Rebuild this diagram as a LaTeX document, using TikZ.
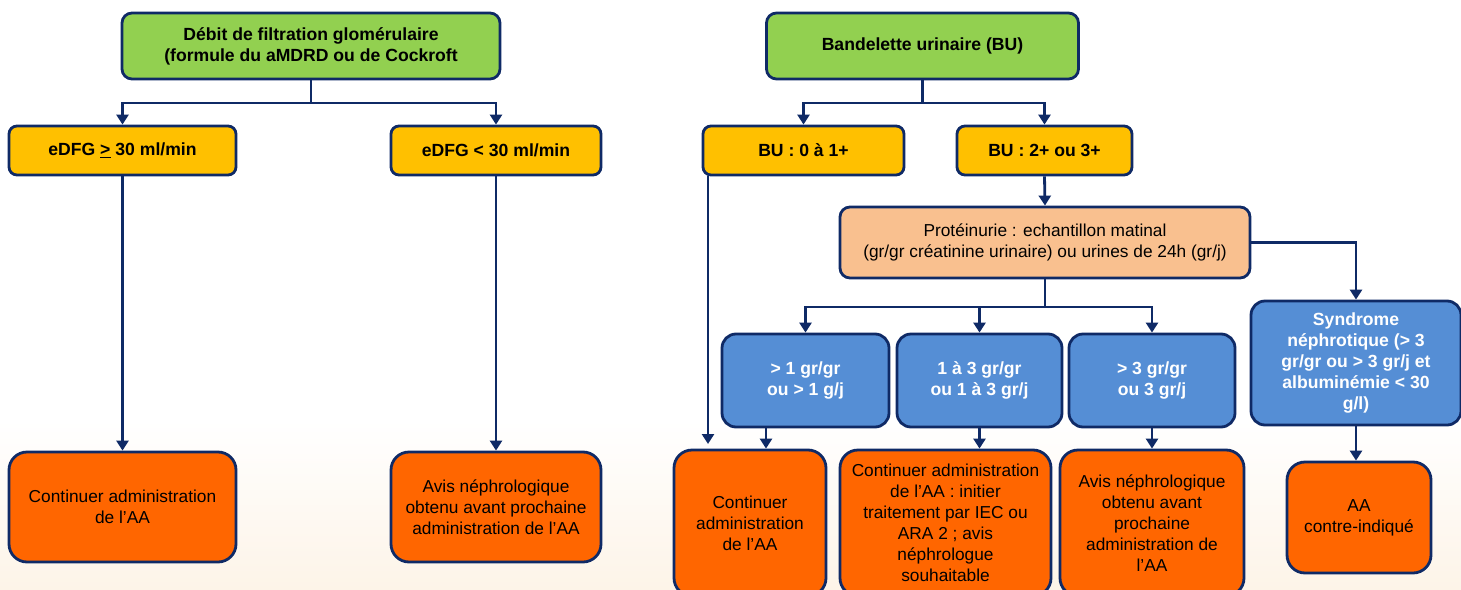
\documentclass[tikz,border=0pt]{standalone}
\usepackage{fontspec}
\setmainfont{Liberation Sans}
\usetikzlibrary{arrows.meta}
\definecolor{navy}{HTML}{0F2A66}
\definecolor{cgreen}{HTML}{92D050}
\definecolor{cyellow}{HTML}{FFC000}
\definecolor{cpeach}{HTML}{F9C08F}
\definecolor{cblue}{HTML}{558ED5}
\definecolor{corange}{HTML}{FF6600}
\definecolor{cwarm}{HTML}{FDF4E8}
\begin{document}
\begin{tikzpicture}[x=1pt,y=-1pt,
  basebox/.style={draw=navy, line width=2.8pt, align=center, inner sep=0pt, text=black,
    font=\fontsize{17.3}{21}\selectfont},
  gbox/.style={basebox, fill=cgreen, rounded corners=10pt, font=\bfseries\fontsize{17.6}{21}\selectfont},
  ybox/.style={basebox, fill=cyellow, rounded corners=8pt, font=\bfseries\fontsize{17.6}{21}\selectfont},
  pbox/.style={basebox, fill=cpeach, rounded corners=10pt},
  bbox/.style={basebox, fill=cblue, rounded corners=14pt, text=white, font=\bfseries\fontsize{17.6}{21}\selectfont},
  obox/.style={basebox, fill=corange, rounded corners=18pt},
  conn/.style={draw=navy, line width=2.8pt},
  arr/.style={conn, -{Triangle[width=12pt,length=10pt]}}]
\useasboundingbox (0,0) rectangle (1461,589);
\clip (0,0) rectangle (1461,589);
\fill[white] (0,0) rectangle (1461,589);
\shade[top color=white, bottom color=cwarm] (0,420) rectangle (1461,589);

% left tree
\node[gbox, minimum width=378pt, minimum height=66pt] (g1) at (311,46)
  {Débit de filtration glomérulaire\\(formule du aMDRD ou de Cockroft};
\node[ybox, minimum width=227pt, minimum height=49pt] (y1) at (122.5,150.5)
  {eDFG \underline{>} 30 ml/min};
\node[ybox, minimum width=210pt, minimum height=49pt] (y2) at (496,150.5)
  {eDFG < 30 ml/min};
\node[obox, minimum width=227pt, minimum height=110pt] (o1) at (122.5,507)
  {Continuer administration\\de l’AA};
\node[obox, minimum width=210pt, minimum height=110pt] (o2) at (496,507)
  {Avis néphrologique\\obtenu avant prochaine\\administration de l’AA};

\coordinate (j1) at (311,103);
\draw[conn] (g1.south) -- (j1);
\draw[arr] (j1) -| (y1.north);
\draw[arr] (j1) -| (y2.north);
\draw[arr] (y1.south) -- (o1.north);
\draw[arr] (y2.south) -- (o2.north);

% right tree
\node[gbox, minimum width=312pt, minimum height=66pt] (g2) at (922.5,46)
  {Bandelette urinaire (BU)};
\node[ybox, minimum width=201pt, minimum height=49pt] (u1) at (803.5,150.5)
  {BU : 0 à 1+};
\node[ybox, minimum width=175pt, minimum height=49pt] (u2) at (1044.5,150.5)
  {BU : 2+ ou 3+};
\node[pbox, minimum width=410pt, minimum height=71pt] (p) at (1045,242.5)
  {Protéinurie : echantillon matinal\\(gr/gr créatinine urinaire) ou urines de 24h (gr/j)};
\node[bbox, minimum width=167pt, minimum height=93pt] (b1) at (805.5,380.5)
  {> 1 gr/gr\\ou > 1 g/j};
\node[bbox, minimum width=165pt, minimum height=93pt] (b2) at (979.5,380.5)
  {1 à 3 gr/gr\\ou 1 à 3 gr/j};
\node[bbox, minimum width=166pt, minimum height=93pt] (b3) at (1152,380.5)
  {> 3 gr/gr\\ou 3 gr/j};
\node[bbox, minimum width=210pt, minimum height=124pt] (s) at (1356,363)
  {Syndrome\\néphrotique (> 3\\gr/gr ou > 3 gr/j et\\albuminémie < 30\\g/l)};
\node[obox, minimum width=152pt, minimum height=146pt] (r1) at (750,523)
  {Continuer\\administration\\de l’AA};
\node[obox, minimum width=211pt, minimum height=146pt] (r2) at (945.5,523)
  {Continuer administration\\de l’AA : initier\\traitement par IEC ou\\ARA 2 ; avis\\néphrologue\\souhaitable};
\node[obox, minimum width=184pt, minimum height=146pt] (r3) at (1152,523)
  {Avis néphrologique\\obtenu avant\\prochaine\\administration de\\l’AA};
\node[obox, minimum width=144pt, minimum height=111pt] (r4) at (1359,517.5)
  {AA\\contre-indiqué};

\coordinate (j2) at (922.5,103);
\draw[conn] (g2.south) -- (j2);
\draw[arr] (j2) -| (u1.north);
\draw[arr] (j2) -| (u2.north);
\draw[arr] (u2.south) -- (p.north);
\coordinate (f1) at (708,444);
\draw[arr] (u1.south -| f1) -- (f1);
\coordinate (j3) at (1045,307);
\draw[conn] (p.south) -- (j3);
\draw[arr] (j3) -| (b1.north);
\draw[arr] (j3) -| (b2.north);
\draw[arr] (j3) -| (b3.north);
\draw[arr] (p.east) -| (s.north);
\coordinate (a1) at (766,0);
\draw[arr] (b1.south -| a1) -- (r1.north -| a1);
\draw[arr] (b2.south) -- (r2.north -| b2.south);
\draw[arr] (b3.south) -- (r3.north);
\draw[arr] (s.south) -- (r4.north -| s.south);
\end{tikzpicture}
\end{document}
